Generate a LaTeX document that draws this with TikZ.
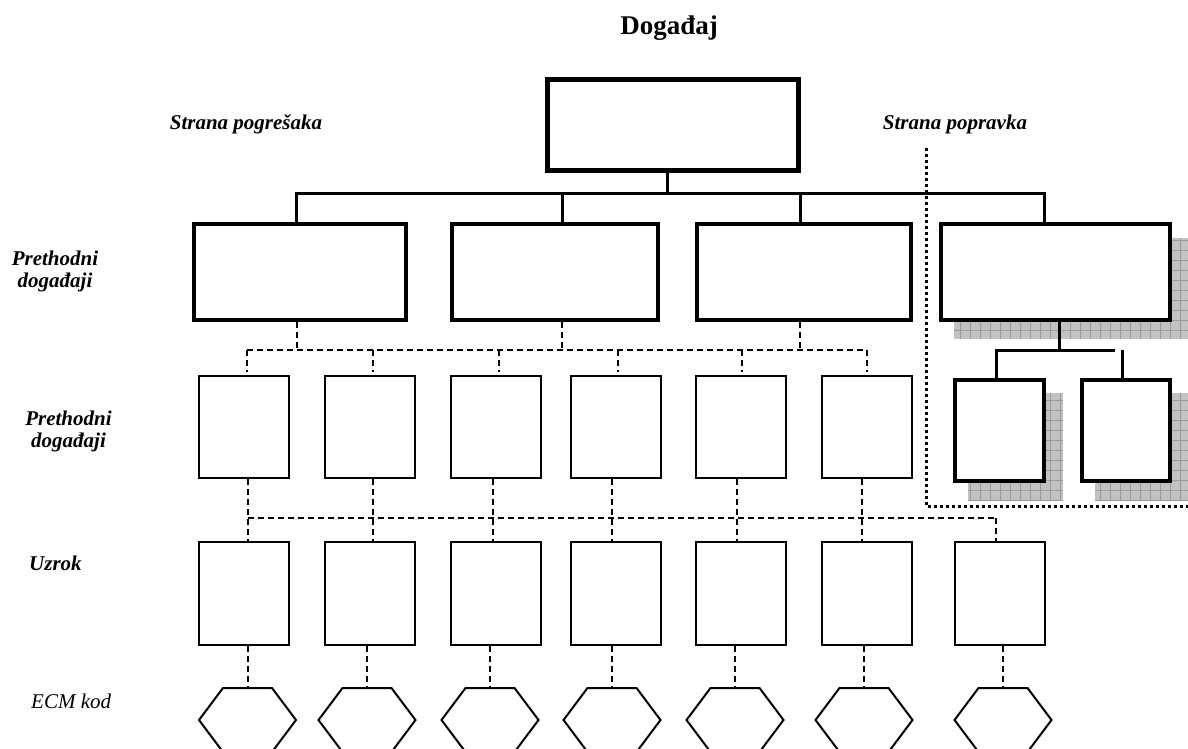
\documentclass[tikz,border=0pt]{standalone}
\usepackage{fontspec}
\setmainfont{Liberation Serif}
\begin{document}
\begin{tikzpicture}[x=1pt,y=-1pt,
  topbox/.style={draw, line width=5pt, fill=white, inner sep=0pt},
  thickbox/.style={draw, line width=4pt, fill=white, inner sep=0pt},
  thinbox/.style={draw, line width=2pt, fill=white, inner sep=0pt, minimum width=90pt},
  solidconn/.style={line width=3pt},
  dashconn/.style={line width=2pt, dash pattern=on 6pt off 4pt},
  dotline/.style={line width=3pt, dash pattern=on 3pt off 3pt},
  hexline/.style={line width=2pt, line join=miter},
  shadowfill/.style={fill=black!24},
  gridline/.style={draw=black!40, line width=0.6pt},
  lab/.style={font=\fontsize{21}{22}\selectfont\bfseries\itshape, anchor=base, inner sep=0pt},
  labplain/.style={font=\fontsize{21}{22}\selectfont\itshape, anchor=base west, inner sep=0pt},
  titlelab/.style={font=\fontsize{27}{28}\selectfont\bfseries, anchor=base, inner sep=0pt}]
\useasboundingbox (0,0) rectangle (1188,749);

% titles and labels
\node[titlelab] (title) at (669,35) {Događaj};
\node[lab] (lfail) at (246,130) {Strana pogrešaka};
\node[lab] (lfix) at (955,130) {Strana popravka};
\node[lab] (lp1a) at (55,265) {Prethodni};
\node[lab] (lp1b) at (55,287) {događaji};
\node[lab] (lp2a) at (68.5,425) {Prethodni};
\node[lab] (lp2b) at (68.5,447) {događaji};
\node[lab, anchor=base west] (luz) at (29,570) {Uzrok};
\node[labplain] (lecm) at (31,708) {ECM kod};

% shadows
\newcommand{\gridshadow}[4]{%
  \fill[shadowfill] (#1,#2) rectangle (#3,#4);
  \begin{scope}
    \clip (#1,#2) rectangle (#3,#4);
    \draw[gridline, step=10pt] (#1,#2) grid (#3,#4);
  \end{scope}}
\gridshadow{954}{238}{1188}{339}
\gridshadow{968}{393}{1063}{500}
\gridshadow{1095}{393}{1188}{500}

% top event
\node[topbox, minimum width=251pt, minimum height=91pt] (top) at (673,125) {};

% first level
\node[thickbox, minimum width=212pt, minimum height=96pt] (b1) at (300,272) {};
\node[thickbox, minimum width=206pt, minimum height=96pt] (b2) at (555,272) {};
\node[thickbox, minimum width=214pt, minimum height=96pt] (b3) at (804,272) {};
\node[thickbox, minimum width=229pt, minimum height=96pt] (b4) at (1055.5,272) {};

% correction sub boxes
\node[thickbox, minimum width=89pt, minimum height=101pt] (s1) at (999.5,430.5) {};
\node[thickbox, minimum width=88pt, minimum height=101pt] (s2) at (1126,430.5) {};

% tree connectors
\coordinate (s0) at (667,193);
\coordinate (d1) at (296,193);
\coordinate (d2) at (562,193);
\coordinate (d3) at (800,193);
\coordinate (d4) at (1044,193);
\draw[solidconn] (s0 |- top.south) -- (s0);
\draw[solidconn] (d1 |- b1.north) -- (d1) -- (d4) -- (d4 |- b4.north);
\draw[solidconn] (d2) -- (d2 |- b2.north);
\draw[solidconn] (d3) -- (d3 |- b3.north);

\coordinate (e0) at (1059,350);
\coordinate (e1) at (996,350);
\coordinate (e2) at (1115,350);
\coordinate (e3) at (1122,350);
\draw[solidconn] (e0 |- b4.south) -- (e0);
\draw[solidconn] (e1 |- s1.north) -- (e1) -- (e2);
\draw[solidconn] (e3) -- (e3 |- s2.north);

% dotted boundary
\coordinate (q1) at (926,148);
\coordinate (q2) at (926,506);
\coordinate (q3) at (1192,506);
\draw[dotline] (q1) -- (q2) -- (q3);

% second level boxes
\foreach \i/\cx in {1/244,2/370,3/496,4/616,5/741,6/867}
  \node[thinbox, minimum height=102pt] (r2\i) at (\cx,427) {};

% third level boxes
\foreach \i/\cx in {1/244,2/370,3/496,4/616,5/741,6/867,7/999.5}
  \node[thinbox, minimum height=103pt] (r3\i) at (\cx,593.5) {};

% dashed level 1 -> level 2
\coordinate (m1) at (297,350);
\coordinate (m2) at (562,350);
\coordinate (m3) at (800,350);
\draw[dashconn] (m1 |- b1.south) -- (m1);
\draw[dashconn] (m2 |- b2.south) -- (m2);
\draw[dashconn] (m3 |- b3.south) -- (m3);
\coordinate (hl1) at (247,350);
\coordinate (hl2) at (867,350);
\draw[dashconn] (hl1) -- (hl2);
\foreach \i/\dx in {1/247,2/373,3/499,4/618,5/742,6/867}{
  \coordinate (p) at (\dx,350);
  \draw[dashconn, shorten >=3pt] (p) -- (p |- r2\i.north);
}

% dashed level 2 -> level 3
\coordinate (hm1) at (248,518);
\coordinate (hm2) at (996,518);
\draw[dashconn] (hm1) -- (hm2);
\foreach \i/\dx in {1/248,2/373,3/493,4/612,5/737,6/862}{
  \coordinate (p) at (\dx,518);
  \draw[dashconn] (p |- r2\i.south) -- (p |- r3\i.north);
}
\draw[dashconn] (hm2) -- (hm2 |- r37.north);

% hexagons (ECM codes) and dashed drops
\foreach \i/\hx in {1/247.5,2/367,3/490,4/612,5/735,6/864,7/1003}{
  \coordinate (h\i) at (\hx,720);
  \coordinate (ht\i) at (\hx,688);
  \draw[hexline] (h\i) ++(-48.5,0) -- ++(24,-32) -- ++(49,0) -- ++(24,32) -- ++(-24,32) -- ++(-49,0) -- cycle;
  \draw[dashconn] (ht\i |- r3\i.south) -- (ht\i);
}
\end{tikzpicture}
\end{document}
